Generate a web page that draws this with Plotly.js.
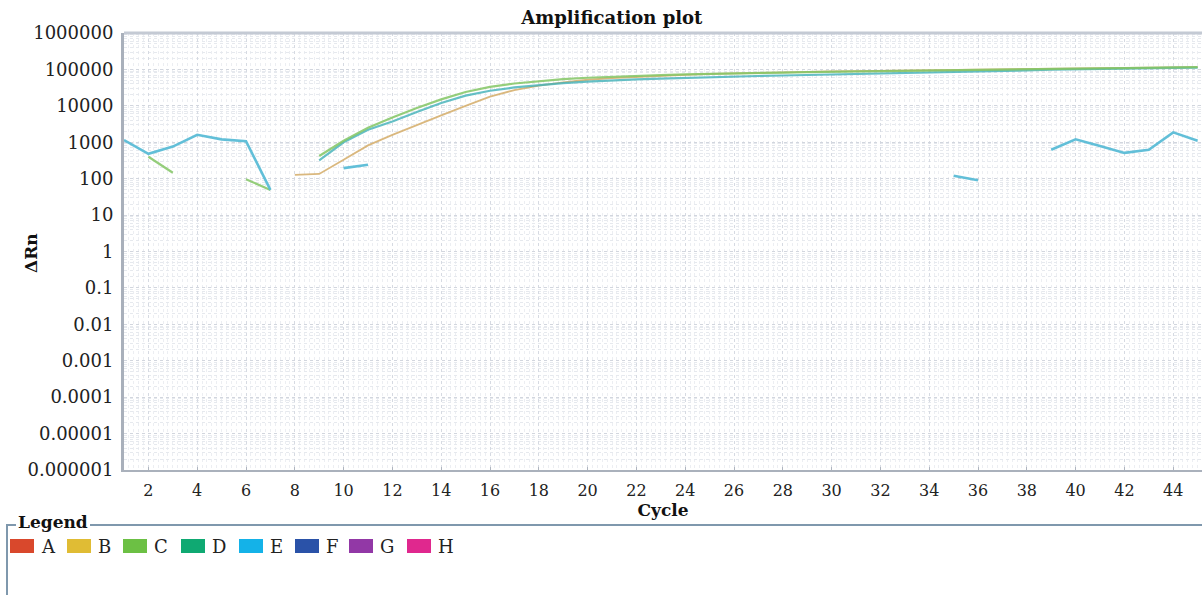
<!DOCTYPE html>
<html>
<head>
<meta charset="utf-8">
<script src="https://cdn.plot.ly/plotly-3.0.1.min.js"></script>
<style>
html, body { margin: 0; padding: 0; background: #ffffff; }
#chart { width: 1202px; height: 595px; }
</style>
</head>
<body>
<div id="chart"></div>
<script>
// ---------- data ----------
const cycles = [1,2,3,4,5,6,7,8,9,10,11,12,13,14,15,16,17,18,19,20,21,22,23,24,25,26,27,28,29,30,31,32,33,34,35,36,37,38,39,40,41,42,43,44,45];

const seriesB = [null,null,null,null,null,null,null,127,135,330,820,1600,3000,5500,10000,18000,27000,36000,44000,52000,58000,63000,67000,71000,75000,78000,81000,84000,86000,88000,90000,92000,94000,96000,98000,100000,102000,104000,106000,108000,109000,110000,112000,114000,115000];

const seriesC = [null,400,145,null,null,96,49,null,420,1100,2500,4800,8700,15000,24000,33000,41000,48000,54000,59000,63000,67000,70000,73000,76000,78000,80000,82000,84000,86000,88000,90000,92000,94000,96000,98000,100000,102000,104000,106000,107000,108000,111000,114000,116000];

const seriesD = [null,null,null,null,null,null,null,null,320,1000,2200,3700,6800,12000,19000,26000,32000,37000,42000,46000,50000,53000,56000,59000,62000,64000,66000,68000,70000,72000,74000,76000,78000,80000,83000,86000,90000,94000,98000,101000,103000,105000,108000,110000,111000];

const seriesE = [1150,480,760,1600,1200,1070,49,null,null,195,240,null,null,null,null,null,null,null,null,null,null,null,null,null,null,null,null,null,null,null,null,null,null,null,120,90,null,null,620,1200,790,510,620,1870,1100];

const xTickVals = [2,4,6,8,10,12,14,16,18,20,22,24,26,28,30,32,34,36,38,40,42,44];
const yTickVals = [1e-6,1e-5,1e-4,1e-3,1e-2,1e-1,1,10,100,1000,10000,100000,1000000];
const yTickText = ['0.000001','0.00001','0.0001','0.001','0.01','0.1','1','10','100','1000','10000','100000','1000000'];

const legendNames = ['A','B','C','D','E','F','G','H'];
const legendColors = ['#d9482c','#e0bc34','#6cc044','#0fa972','#14b2e8','#2a52a8','#9238a6','#e0288e'];

// ---------- geometry helpers (pixel -> paper) ----------
const W = 1202, H = 595;
const mL = 124, mR = 0, mT = 33, mB = 125;
const pw = W - mL - mR, ph = H - mT - mB;
const px = v => (v - mL) / pw;
const py = v => (H - mB - v) / ph;

const FONT = 'DejaVu Serif';

const traces = [
  {name:'B', x: cycles, y: seriesB, mode:'lines', line:{color:'rgba(214,176,112,0.9)', width:1.8}},
  {name:'D', x: cycles, y: seriesD, mode:'lines', line:{color:'rgba(64,176,184,0.8)', width:2.2}},
  {name:'C', x: cycles, y: seriesC, mode:'lines', line:{color:'rgba(130,198,100,0.85)', width:2.2}},
  {name:'E', x: cycles, y: seriesE, mode:'lines', line:{color:'rgba(90,188,214,0.95)', width:2.6}}
];
traces.forEach(t => { t.hoverinfo = 'skip'; t.connectgaps = false; });

// legend box built from legendNames / legendColors
const shapes = [];
const annotations = [];
const swatchX = [10, 67, 123, 181, 239, 295, 349, 407];
legendNames.forEach((n, i) => {
  shapes.push({type:'rect', xref:'paper', yref:'paper',
    x0: px(swatchX[i]), x1: px(swatchX[i] + 24), y0: py(553), y1: py(539),
    fillcolor: legendColors[i], line:{width:0}, layer:'above'});
  annotations.push({xref:'paper', yref:'paper', x: px(swatchX[i] + 29), y: py(546),
    xanchor:'left', yanchor:'middle', text: n, showarrow:false,
    font:{family: FONT, size: 18, color:'#222'}});
});
// legend frame
const frameColor = '#7f98ad';
shapes.push({type:'line', xref:'paper', yref:'paper', x0:px(6), x1:px(16), y0:py(525), y1:py(525), line:{color:frameColor, width:2}});
shapes.push({type:'line', xref:'paper', yref:'paper', x0:px(90), x1:px(1202), y0:py(525), y1:py(525), line:{color:frameColor, width:2}});
shapes.push({type:'line', xref:'paper', yref:'paper', x0:px(7), x1:px(7), y0:py(525), y1:py(600), line:{color:frameColor, width:2}});
annotations.push({xref:'paper', yref:'paper', x: px(16), y: py(522), xanchor:'left', yanchor:'middle',
  text:'<b>Legend</b>', showarrow:false, font:{family: FONT, size: 17, color:'#111'}});
// y axis title as annotation (sits over the tick-label column like the original)
annotations.push({xref:'paper', yref:'paper', x: px(31), y: py(253), xanchor:'center', yanchor:'middle',
  text:'<b>ΔRn</b>', textangle:-90, showarrow:false, font:{family: FONT, size: 17, color:'#111'}});
// top border of plot
shapes.push({type:'line', xref:'paper', yref:'paper', x0:0, x1:1, y0:1, y1:1, line:{color:'#c4cad4', width:3}});

const layout = {
  width: W, height: H,
  margin: {l: mL, r: mR, t: mT, b: mB, pad: 0},
  paper_bgcolor: '#ffffff', plot_bgcolor: '#ffffff',
  showlegend: false,
  title: {text: '<b>Amplification plot</b>', x: 0.509, xanchor:'center', y: 0.97, yanchor:'middle',
    font:{family: FONT, size: 18, color:'#111'}},
  xaxis: {
    range: [1, 1 + pw / 24.4],
    tickmode: 'array', tickvals: xTickVals,
    ticks: 'inside', ticklen: 3, tickcolor: '#b0b6c0',
    tickfont: {family: FONT, size: 16, color:'#222'},
    ticklabelstandoff: 5,
    showline: true, linecolor: '#aab1bc', linewidth: 2,
    showgrid: true, gridcolor: '#d6dae2', griddash: 'dot', gridwidth: 1,
    minor: {dtick: 0.2, showgrid: true, gridcolor: '#eceef2', griddash: 'dot', gridwidth: 1},
    zeroline: false,
    title: {text: '<b>Cycle</b>', standoff: 5, font:{family: FONT, size: 17, color:'#111'}}
  },
  yaxis: {
    type: 'log', range: [-6, 6],
    tickmode: 'array', tickvals: yTickVals, ticktext: yTickText,
    ticks: '', tickfont: {family: FONT, size: 18, color:'#222'},
    ticklabelstandoff: 4,
    showline: true, linecolor: '#a9b0bb', linewidth: 3,
    showgrid: true, gridcolor: '#d2d6de', griddash: 'dot', gridwidth: 1,
    minor: {dtick: 'D1', showgrid: true, gridcolor: '#e6e9ee', griddash: 'dot', gridwidth: 1},
    zeroline: false,
    title: {text: ''}
  },
  shapes: shapes,
  annotations: annotations
};

Plotly.newPlot('chart', traces, layout, {staticPlot: true, displayModeBar: false});
</script>
</body>
</html>
